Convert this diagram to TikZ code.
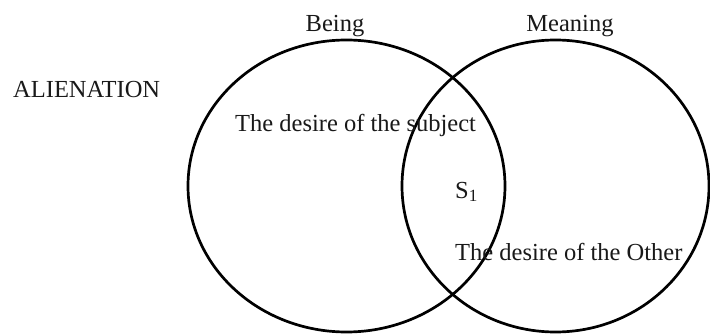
\documentclass[tikz,border=0pt]{standalone}
\usepackage{fontspec}
\setmainfont{Liberation Serif}
\tikzset{
  ring/.style={draw=black, line width=2.7pt},
  lbl/.style={inner sep=0pt, font=\fontsize{24.5}{28}\selectfont, text=black!90}
}
\begin{document}
\begin{tikzpicture}[x=1pt,y=-1pt]
\useasboundingbox (0,0) rectangle (710,334);
\draw[ring] (346.5,186) ellipse [x radius=158.5pt, y radius=146pt];
\draw[ring] (555.5,186) ellipse [x radius=153.5pt, y radius=146pt];
\node[lbl, anchor=base] (being) at (335,32) {Being};
\node[lbl, anchor=base] (meaning) at (570,32) {Meaning};
\node[lbl, anchor=base west] (alien) at (13,98) {ALIENATION};
\node[lbl, anchor=base west] (subj) at (235,132) {The desire of the subject};
\node[lbl, anchor=base west] (s1) at (455,198) {S\textsubscript{1}};
\node[lbl, anchor=base west] (other) at (455,260) {The desire of the Other};
\end{tikzpicture}
\end{document}
